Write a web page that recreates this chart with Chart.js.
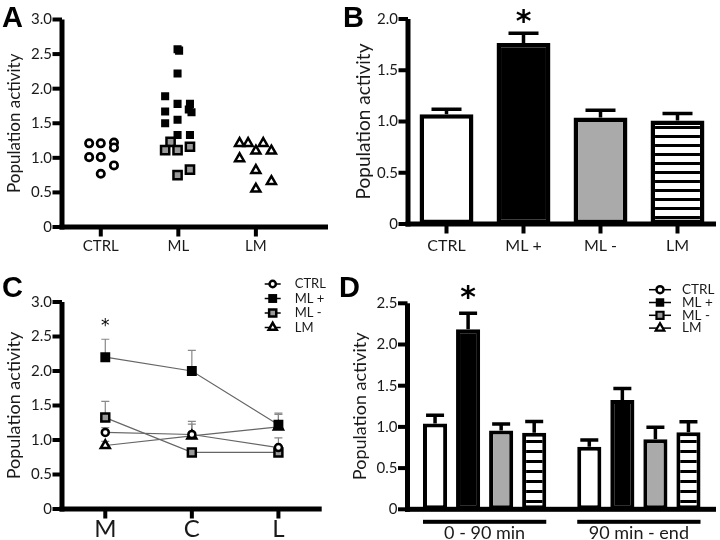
<!DOCTYPE html>
<html>
<head>
<meta charset="utf-8">
<script src="https://cdn.jsdelivr.net/npm/chart.js@4.4.1/dist/chart.umd.min.js"></script>
<style>
  body { margin: 0; background: #fff; }
  #wrap { position: relative; width: 720px; height: 540px; overflow: hidden; background: #fff; }
  canvas { position: absolute; }
  .tag { position: absolute; font: bold 29px "Liberation Sans", Arial, sans-serif; line-height: 29px; color: #000; }
</style>
</head>
<body>
<div id="wrap">
  <canvas id="chartA" width="340" height="270" style="left:0px;top:0px"></canvas>
  <canvas id="chartB" width="380" height="270" style="left:340px;top:0px"></canvas>
  <canvas id="chartC" width="340" height="270" style="left:0px;top:270px"></canvas>
  <canvas id="chartD" width="380" height="270" style="left:340px;top:270px"></canvas>
  <div class="tag" style="left:2px;top:3px">A</div>
  <div class="tag" style="left:343px;top:3px">B</div>
  <div class="tag" style="left:2px;top:273px">C</div>
  <div class="tag" style="left:339px;top:273px">D</div>
</div>
<script>
// ---- panel A: individual recordings
const aCategories = ['CTRL', 'ML', 'LM'];
const aCtrlX = [0.85, 1.0, 1.17, 1.17, 0.85, 1.0, 1.17, 1.0];
const aCtrlY = [1.21, 1.21, 1.22, 1.15, 1.01, 1.01, 0.89, 0.77];
const aMlPlusX = [1.99, 2.01, 1.99, 1.83, 1.99, 2.15, 1.83, 2.135, 2.17, 1.99, 1.83, 1.99, 2.15];
const aMlPlusY = [2.57, 2.55, 2.22, 1.89, 1.78, 1.78, 1.67, 1.70, 1.66, 1.55, 1.50, 1.33, 1.33];
const aMlMinusX = [1.9, 1.83, 1.99, 2.15, 1.99, 2.15];
const aMlMinusY = [1.23, 1.11, 1.11, 1.16, 0.75, 0.83];
const aLmX = [2.79, 2.9, 3.095, 3.0, 3.2, 2.79, 3.0, 3.2, 3.0];
const aLmY = [1.21, 1.21, 1.21, 1.10, 1.10, 0.99, 0.82, 0.66, 0.55];

// ---- panel B: means
const bCategories = ['CTRL', 'ML +', 'ML -', 'LM'];
const bMeans = [1.07, 1.765, 1.04, 1.01];
const bErrors = [0.05, 0.095, 0.07, 0.067];

// ---- panel C: by region
const cCategories = ['M', 'C', 'L'];
const cCtrl = [1.11, 1.08, 0.89];
const cCtrlErr = [0.07, 0.19, 0.14];
const cMlPlus = [2.20, 2.00, 1.22];
const cMlPlusErr = [0.26, 0.30, 0.17];
const cMlMinus = [1.325, 0.82, 0.82];
const cMlMinusErr = [0.235, 0.05, 0.04];
const cLm = [0.92, 1.06, 1.19];
const cLmErr = [0.06, 0.17, 0.18];

// ---- panel D: by time window
const dCategories = ['0 - 90 min', '90 min - end'];
const dCtrl = [1.04, 0.76];
const dCtrlErr = [0.10, 0.08];
const dMlPlus = [2.185, 1.327];
const dMlPlusErr = [0.195, 0.14];
const dMlMinus = [0.955, 0.85];
const dMlMinusErr = [0.08, 0.145];
const dLm = [0.93, 0.934];
const dLmErr = [0.135, 0.13];

Chart.defaults.font.family = 'Lato, "Open Sans", sans-serif';
Chart.defaults.color = '#1a1a1a';
Chart.defaults.plugins.legend.display = false;
Chart.defaults.plugins.tooltip.enabled = false;

const AXIS_W = 5;
const TICK_LEN = 7;
const TICK_W = 4;

const pts = (xs, ys) => xs.map((x, i) => ({ x: x, y: ys[i] }));

// horizontal stripes fill for the LM bars
function stripes(canvasId, period, thick) {
    const c = document.createElement('canvas');
    c.width = 4;
    c.height = period;
    const g = c.getContext('2d');
    g.fillStyle = '#fff';
    g.fillRect(0, 0, 4, period);
    g.fillStyle = '#000';
    g.fillRect(0, 0, 4, thick);
    return document.getElementById(canvasId).getContext('2d').createPattern(c, 'repeat');
}

// built-in axis lines are switched off, thickAxes draws them
function valueAxis(max, width, titleSize, titlePad) {
    return {
        min: 0,
        max: max,
        afterFit: (s) => { s.width = width; },
        border: { display: false },
        grid: { display: false, drawTicks: false },
        ticks: { stepSize: 0.5, padding: 10, font: { size: 15 }, callback: (v) => v === 0 ? '0' : v.toFixed(1) },
        title: { display: true, text: 'Population activity', font: { size: titleSize }, padding: { top: titlePad, bottom: 0 } }
    };
}

function frame(top, right) {
    return { autoPadding: false, padding: { left: 0, top: top, right: right, bottom: 0 } };
}

// thick GraphPad-style axes, ticks placed by the scales
function thickAxes(xTicks) {
    return {
        id: 'thickAxes',
        afterDraw(chart) {
            const ctx = chart.ctx;
            const a = chart.chartArea;
            const h = AXIS_W / 2;
            ctx.save();
            ctx.fillStyle = '#000';
            ctx.fillRect(a.left - h, a.top, AXIS_W, a.bottom - a.top + h);
            ctx.fillRect(a.left - h, a.bottom - h, a.right - a.left + h, AXIS_W);
            const y = chart.scales.y;
            y.ticks.forEach((t) => {
                const py = y.getPixelForValue(t.value);
                ctx.fillRect(a.left - h - TICK_LEN, py - TICK_W / 2, TICK_LEN + h, TICK_W);
            });
            if (xTicks) {
                const x = chart.scales.x;
                x.ticks.forEach((t, i) => {
                    const px = x.getPixelForTick(i);
                    ctx.fillRect(px - TICK_W / 2, a.bottom, TICK_W, TICK_LEN + h);
                });
            }
            ctx.restore();
        }
    };
}

function drawMarker(ctx, ds, x, y, scale) {
    const r = ds.pointRadius * scale;
    ctx.beginPath();
    if (ds.pointStyle === 'circle') {
        ctx.arc(x, y, r, 0, Math.PI * 2);
    } else if (ds.pointStyle === 'rect') {
        ctx.rect(x - r * Math.SQRT1_2, y - r * Math.SQRT1_2, r * 2 * Math.SQRT1_2, r * 2 * Math.SQRT1_2);
    } else {
        ctx.moveTo(x, y - r);
        ctx.lineTo(x + r * 0.866, y + r / 2);
        ctx.lineTo(x - r * 0.866, y + r / 2);
        ctx.closePath();
    }
    ctx.fillStyle = ds.pointBackgroundColor;
    ctx.fill();
    if (ds.pointBorderWidth) {
        ctx.lineWidth = ds.pointBorderWidth;
        ctx.strokeStyle = '#000';
        ctx.stroke();
    }
}

// one-sided (upward) error bars from dataset.errors
function errorBars(behind, color, width, cap) {
    const draw = (chart) => {
        const ctx = chart.ctx;
        const y = chart.scales.y;
        ctx.save();
        ctx.strokeStyle = color;
        ctx.lineWidth = width;
        chart.data.datasets.forEach((ds, i) => {
            if (!ds.errors) return;
            chart.getDatasetMeta(i).data.forEach((el, j) => {
                const base = y.getPixelForValue(ds.data[j]);
                const top = y.getPixelForValue(ds.data[j] + ds.errors[j]);
                ctx.beginPath();
                ctx.moveTo(el.x, base);
                ctx.lineTo(el.x, top);
                ctx.moveTo(el.x - cap / 2, top);
                ctx.lineTo(el.x + cap / 2, top);
                ctx.stroke();
            });
        });
        ctx.restore();
    };
    return {
        id: 'errorBars',
        beforeDatasetsDraw(chart) { if (behind) draw(chart); },
        afterDatasetsDraw(chart) { if (!behind) draw(chart); }
    };
}

function star(dsIndex, index, gap, font) {
    return {
        id: 'star',
        afterDraw(chart) {
            const ds = chart.data.datasets[dsIndex];
            const el = chart.getDatasetMeta(dsIndex).data[index];
            const top = chart.scales.y.getPixelForValue(ds.data[index] + ds.errors[index]);
            const ctx = chart.ctx;
            ctx.save();
            ctx.fillStyle = '#000';
            ctx.font = font;
            ctx.textAlign = 'center';
            ctx.textBaseline = 'middle';
            ctx.fillText('*', el.x, top - gap);
            ctx.restore();
        }
    };
}

function markerLegend(o) {
    return {
        id: 'markerLegend',
        afterDraw(chart) {
            const ctx = chart.ctx;
            const area = chart.chartArea;
            ctx.save();
            chart.data.datasets.forEach((ds, i) => {
                const x0 = area.right - o.fromRight;
                const y = area.top + o.top + i * o.rowH;
                ctx.fillStyle = '#000';
                ctx.fillRect(x0, y - 0.75, o.lineLen, 1.5);
                drawMarker(ctx, ds, x0 + o.lineLen / 2, y, o.scale);
                ctx.fillStyle = '#1a1a1a';
                ctx.font = o.fontSize + 'px Lato, "Open Sans", sans-serif';
                ctx.textAlign = 'left';
                ctx.textBaseline = 'middle';
                ctx.fillText(ds.label, x0 + o.textAt, y);
            });
            ctx.restore();
        }
    };
}

// bars under each group in panel D
const groupRule = {
    id: 'groupRule',
    afterDraw(chart) {
        const first = chart.getDatasetMeta(0).data;
        const last = chart.getDatasetMeta(chart.data.datasets.length - 1).data;
        const ctx = chart.ctx;
        const y = chart.chartArea.bottom + 12.5;
        ctx.save();
        ctx.fillStyle = '#000';
        first.forEach((el, j) => {
            const x0 = el.x - el.width / 2;
            ctx.fillRect(x0, y - 2, last[j].x + last[j].width / 2 - x0, 4);
        });
        ctx.restore();
    }
};

// Panel A
new Chart(document.getElementById('chartA'), {
    type: 'scatter',
    data: {
        datasets: [
            { label: 'CTRL', data: pts(aCtrlX, aCtrlY), pointStyle: 'circle', pointRadius: 3.7, pointBorderWidth: 2.7, pointBorderColor: '#000', pointBackgroundColor: '#fff' },
            { label: 'ML -', data: pts(aMlMinusX, aMlMinusY), pointStyle: 'rect', pointRadius: 5.8, pointBorderWidth: 2.5, pointBorderColor: '#000', pointBackgroundColor: '#999' },
            { label: 'ML +', data: pts(aMlPlusX, aMlPlusY), pointStyle: 'rect', pointRadius: 5.7, pointBorderWidth: 0, pointBorderColor: '#000', pointBackgroundColor: '#000' },
            { label: 'LM', data: pts(aLmX, aLmY), pointStyle: 'triangle', pointRadius: 5.2, pointBorderWidth: 2.5, pointBorderColor: '#000', pointBackgroundColor: '#fff' }
        ]
    },
    options: {
        responsive: false,
        animation: false,
        layout: frame(19.5, 12),
        scales: {
            x: {
                type: 'linear',
                min: 0.5,
                max: 3.93,
                afterFit: (s) => { s.height = 43; },
                afterBuildTicks: (s) => { s.ticks = aCategories.map((c, i) => ({ value: i + 1 })); },
                border: { display: false },
                grid: { display: false, drawTicks: false },
                ticks: { padding: 10, font: { size: 15 }, callback: (v) => aCategories[Math.round(v) - 1] }
            },
            y: valueAxis(3, 62, 17, 4.3)
        }
    },
    plugins: [thickAxes(true)]
});

// Panel B
new Chart(document.getElementById('chartB'), {
    type: 'bar',
    data: {
        labels: bCategories,
        datasets: [{
            label: 'Population activity',
            data: bMeans,
            errors: bErrors,
            backgroundColor: ['#fff', '#000', '#aaa', stripes('chartB', 9, 3)],
            borderColor: '#000',
            borderWidth: 4.5,
            borderSkipped: false,
            barPercentage: 0.7,
            categoryPercentage: 1
        }]
    },
    options: {
        responsive: false,
        animation: false,
        layout: frame(16.7, 4),
        scales: {
            x: {
                afterFit: (s) => { s.height = 46; },
                border: { display: false },
                grid: { display: false, drawTicks: false },
                ticks: { padding: 12, font: { size: 16 } }
            },
            y: valueAxis(2, 68, 19, 12.6)
        }
    },
    plugins: [errorBars(false, '#000', 3.5, 30), star(0, 1, 10, 'bold 30px "DejaVu Sans"'), thickAxes(true)]
});

// Panel C
const lineSet = (label, data, errors, style, r, fill, bw) => ({
    label: label, data: data, errors: errors,
    borderColor: '#666', borderWidth: 1.2,
    pointStyle: style, pointRadius: r, pointBackgroundColor: fill,
    pointBorderColor: '#000', pointBorderWidth: bw
});

new Chart(document.getElementById('chartC'), {
    type: 'line',
    data: {
        labels: cCategories,
        datasets: [
            lineSet('CTRL', cCtrl, cCtrlErr, 'circle', 3.5, '#fff', 2.5),
            lineSet('ML +', cMlPlus, cMlPlusErr, 'rect', 7, '#000', 0),
            lineSet('ML -', cMlMinus, cMlMinusErr, 'rect', 5.6, '#999', 2.5),
            lineSet('LM', cLm, cLmErr, 'triangle', 5.2, '#fff', 2.5)
        ]
    },
    options: {
        responsive: false,
        animation: false,
        layout: frame(32, 18.3),
        scales: {
            x: {
                offset: true,
                afterFit: (s) => { s.height = 31; },
                border: { display: false },
                grid: { display: false, drawTicks: false },
                ticks: { padding: 6, font: { size: 24 } }
            },
            y: valueAxis(3, 62, 18, 3.7)
        }
    },
    plugins: [
        errorBars(true, '#888', 1.2, 8),
        star(1, 0, 13, '17px "DejaVu Sans"'),
        markerLegend({ fromRight: 57, lineLen: 16, textAt: 30, top: -18, rowH: 14.5, scale: 0.9, fontSize: 13 }),
        thickAxes(true)
    ]
});

// Panel D
const barSet = (label, data, errors, fill, style, r, markerFill, bw) => ({
    label: label, data: data, errors: errors,
    backgroundColor: fill, borderColor: '#000', borderWidth: 4, borderSkipped: false,
    barPercentage: 0.73, categoryPercentage: 0.857,
    pointStyle: style, pointRadius: r, pointBackgroundColor: markerFill, pointBorderWidth: bw
});

new Chart(document.getElementById('chartD'), {
    type: 'bar',
    data: {
        labels: dCategories,
        datasets: [
            barSet('CTRL', dCtrl, dCtrlErr, '#fff', 'circle', 3.5, '#fff', 2.5),
            barSet('ML +', dMlPlus, dMlPlusErr, '#000', 'rect', 6, '#000', 0),
            barSet('ML -', dMlMinus, dMlMinusErr, '#aaa', 'rect', 5, '#999', 2.2),
            barSet('LM', dLm, dLmErr, stripes('chartD', 10, 3), 'triangle', 5, '#fff', 2.2)
        ]
    },
    options: {
        responsive: false,
        animation: false,
        layout: frame(33.3, 4),
        scales: {
            x: {
                afterFit: (s) => { s.height = 30.7; },
                border: { display: false },
                grid: { display: false, drawTicks: false },
                ticks: { padding: 13, font: { size: 18 } }
            },
            y: valueAxis(2.5, 67.5, 18, 9.2)
        }
    },
    plugins: [
        errorBars(false, '#000', 3.5, 18),
        star(1, 0, 14, 'bold 30px "DejaVu Sans"'),
        groupRule,
        markerLegend({ fromRight: 67, lineLen: 22, textAt: 33, top: -13.6, rowH: 12.8, scale: 1, fontSize: 13.5 }),
        thickAxes(false)
    ]
});
</script>
</body>
</html>
